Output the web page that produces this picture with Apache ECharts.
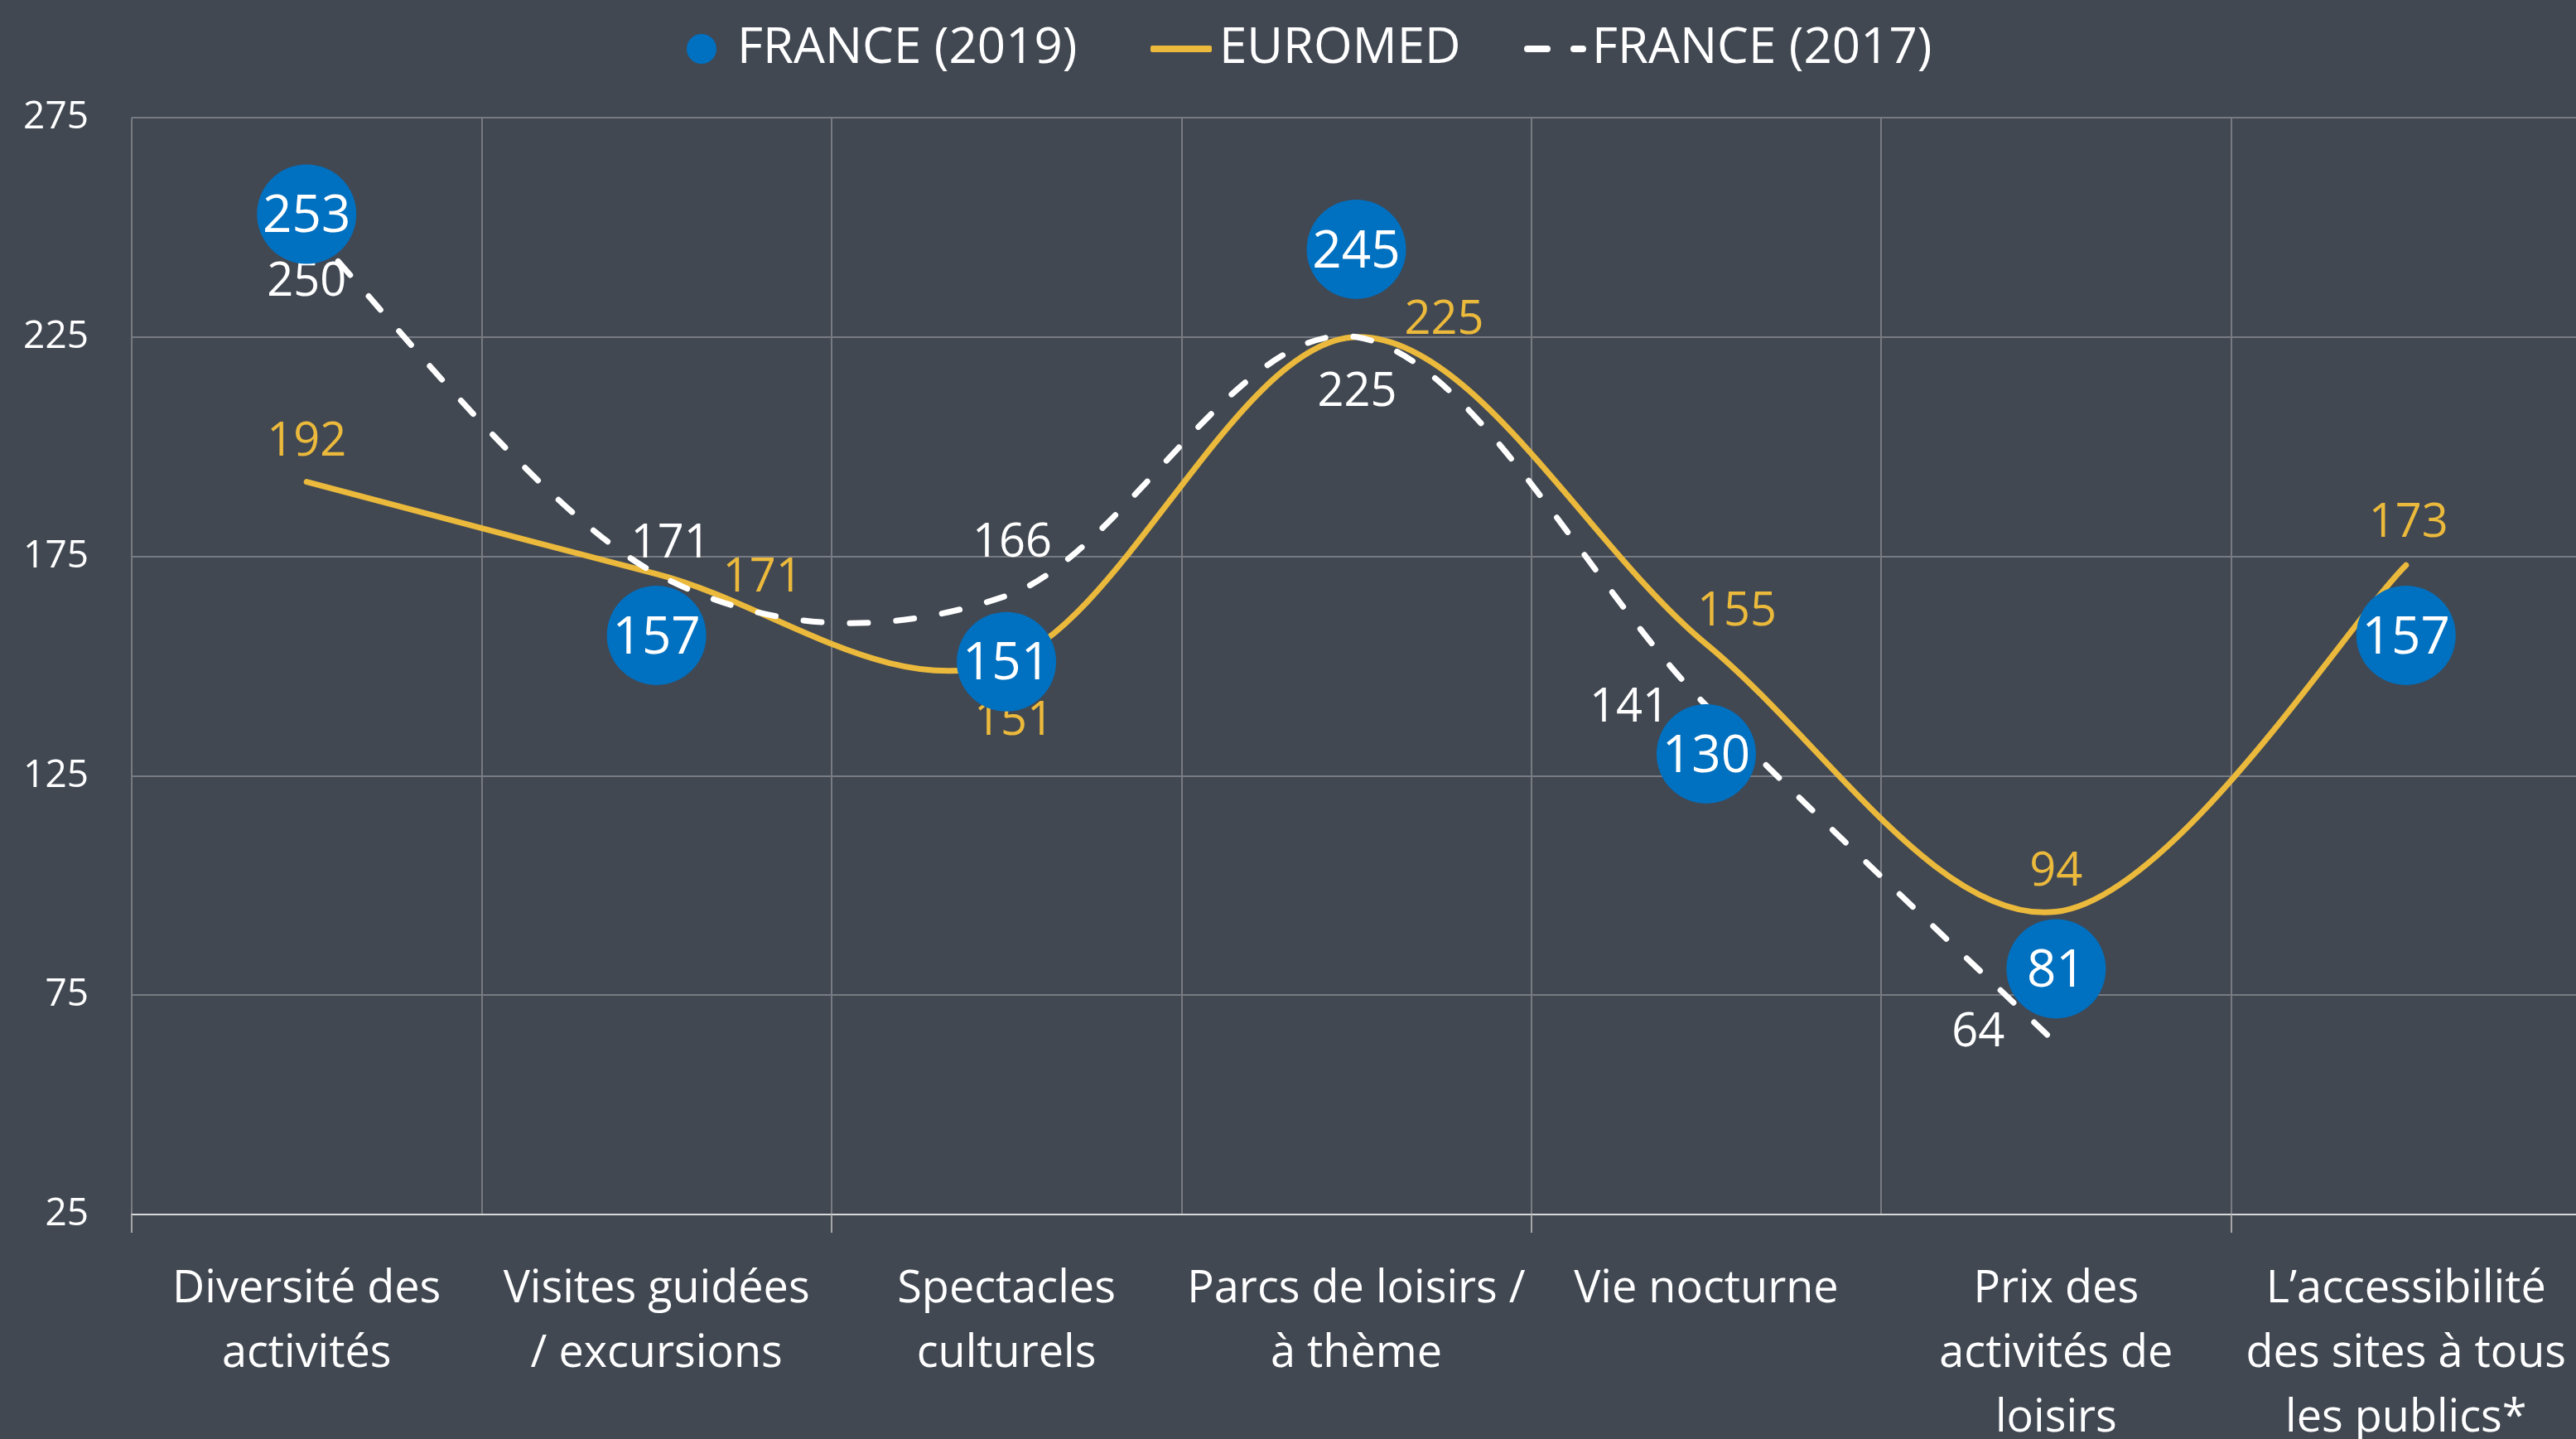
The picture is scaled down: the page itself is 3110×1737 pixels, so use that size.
<!DOCTYPE html>
<html>
<head>
<meta charset="utf-8">
<script src="https://cdn.jsdelivr.net/npm/echarts@6/dist/echarts.min.js"></script>
<style>
  html, body { margin: 0; padding: 0; background: #414852; }
  #chart { width: 3110px; height: 1737px; }
</style>
</head>
<body>
<div id="chart"></div>
<script>
// ---- Data ----
const categories = [
  'Diversité des\nactivités',
  'Visites guidées\n/ excursions',
  'Spectacles\nculturels',
  'Parcs de loisirs /\nà thème',
  'Vie nocturne',
  'Prix des\nactivités de\nloisirs',
  'L’accessibilité\ndes sites à tous\nles publics*'
];
const seriesNames = ['FRANCE (2019)', 'EUROMED', 'FRANCE (2017)'];
const france2019 = [253, 157, 151, 245, 130, 81, 157];
const euromed = [192, 171, 151, 225, 155, 94, 173];
const france2017 = [250, 171, 166, 225, 141, 64, null];
const yMin = 25, yMax = 275, yStep = 50;

// ---- Label placement (styling, px offsets from each point) ----
const euromedLabelOffsets = [[0, -48], [128, 5], [9, 72], [106, -20], [37, -38], [0, -48], [3, -50]];
const france2017LabelOffsets = [[0, 67], [17, -36], [7, -63], [1, 67], [-93, 3], [-94, -12], [0, 0]];

const FONT = '"Open Sans", "Noto Sans", sans-serif';
const YELLOW = '#EBB93B';
const BLUE = '#0070C0';
const WHITE = '#FFFFFF';
const GRID = '#787B81';

function withLabels(values, offsets) {
  return values.map((v, i) => ({ value: v, label: { offset: offsets[i] } }));
}

// Smooth (Catmull-Rom style, like spreadsheet smoothed lines) path through the
// data points, positioned with the chart's own coordinate system.
function smoothCurve(values, stroke, lineDash) {
  return function (params, api) {
    if (params.dataIndex !== 0) return { type: 'group', children: [] };
    const pts = [];
    values.forEach((v, i) => { if (v != null) pts.push(api.coord([i, v])); });
    let d = 'M' + pts[0][0] + ',' + pts[0][1];
    for (let i = 0; i < pts.length - 1; i++) {
      const p0 = pts[i - 1] || pts[i], p1 = pts[i], p2 = pts[i + 1], p3 = pts[i + 2] || pts[i + 1];
      const c1x = p1[0] + (p2[0] - p0[0]) / 6, c1y = p1[1] + (p2[1] - p0[1]) / 6;
      const c2x = p2[0] - (p3[0] - p1[0]) / 6, c2y = p2[1] - (p3[1] - p1[1]) / 6;
      d += ' C' + c1x + ',' + c1y + ' ' + c2x + ',' + c2y + ' ' + p2[0] + ',' + p2[1];
    }
    return {
      type: 'path',
      shape: { pathData: d },
      style: { fill: 'none', stroke: stroke, lineWidth: 7, lineCap: 'round', lineJoin: 'round', lineDash: lineDash || null }
    };
  };
}

function pairData(values) {
  const out = [];
  values.forEach((v, i) => { if (v != null) out.push([i, v]); });
  return out;
}

const chart = echarts.init(document.getElementById('chart'), null, { renderer: 'canvas' });

const legendText = { color: WHITE, fontSize: 60, fontFamily: FONT, lineHeight: 72 };

const option = {
  backgroundColor: '#414852',
  animation: false,
  textStyle: { fontFamily: FONT },
  legend: [
    {
      data: [{ name: seriesNames[0], icon: 'circle', itemStyle: { color: BLUE } }],
      left: 829, top: 23, padding: 0,
      itemWidth: 36, itemHeight: 36,
      selectedMode: false,
      textStyle: Object.assign({ padding: [0, 0, 0, 20] }, legendText)
    },
    {
      data: [{ name: seriesNames[1], icon: 'roundRect', itemStyle: { color: YELLOW, borderWidth: 0 } }],
      left: 1389, top: 23, padding: 0,
      itemWidth: 74, itemHeight: 8,
      selectedMode: false,
      textStyle: Object.assign({ padding: [0, 0, 0, 4] }, legendText)
    },
    {
      data: [{
        name: seriesNames[2],
        icon: 'path://M4,0h24a4,4 0 0 1 0,8h-24a4,4 0 0 1 0,-8z M60,0h11a4,4 0 0 1 0,8h-11a4,4 0 0 1 0,-8z',
        itemStyle: { color: WHITE, borderWidth: 0 }
      }],
      left: 1840, top: 23, padding: 0,
      itemWidth: 75, itemHeight: 8,
      selectedMode: false,
      textStyle: Object.assign({ padding: [0, 0, 0, 2] }, legendText)
    }
  ],
  grid: { left: 159, top: 142, width: 2957, height: 1324, containLabel: false, outerBoundsMode: 'none' },
  xAxis: {
    type: 'category',
    data: categories,
    boundaryGap: true,
    axisLine: { show: true, lineStyle: { color: '#D9D9D9', width: 2 } },
    axisTick: { show: true, interval: 1, length: 22, lineStyle: { color: '#A6A6A6', width: 2 } },
    splitLine: { show: true, interval: 0, lineStyle: { color: GRID, width: 2 } },
    axisLabel: {
      interval: 0, color: WHITE, fontSize: 54, fontFamily: FONT,
      lineHeight: 78, margin: 52
    }
  },
  yAxis: {
    type: 'value',
    min: yMin, max: yMax, interval: yStep,
    axisLine: { show: false },
    axisTick: { show: false },
    splitLine: { show: true, lineStyle: { color: GRID, width: 2 } },
    axisLabel: { color: WHITE, fontSize: 46, fontFamily: FONT, margin: 52, padding: [16, 0, 0, 0] }
  },
  series: [
    {
      name: '_euromedCurve',
      type: 'custom',
      data: pairData(euromed),
      renderItem: smoothCurve(euromed, YELLOW),
      z: 2, silent: true
    },
    {
      name: '_france2017Curve',
      type: 'custom',
      data: pairData(france2017),
      renderItem: smoothCurve(france2017, WHITE, [22, 34]),
      z: 2, silent: true
    },
    {
      name: seriesNames[1],
      type: 'line',
      data: withLabels(euromed, euromedLabelOffsets),
      symbol: 'circle', symbolSize: 1, showSymbol: true,
      itemStyle: { color: 'rgba(0,0,0,0)' },
      lineStyle: { color: YELLOW, width: 0, opacity: 0 },
      label: { show: true, position: 'inside', color: YELLOW, fontSize: 56, fontFamily: FONT },
      z: 3,
      emphasis: { disabled: true }
    },
    {
      name: seriesNames[2],
      type: 'line',
      data: withLabels(france2017, france2017LabelOffsets),
      symbol: 'circle', symbolSize: 1, showSymbol: true,
      itemStyle: { color: 'rgba(0,0,0,0)' },
      lineStyle: { color: WHITE, width: 0, opacity: 0 },
      label: { show: true, position: 'inside', color: WHITE, fontSize: 56, fontFamily: FONT },
      z: 3,
      emphasis: { disabled: true }
    },
    {
      name: seriesNames[0],
      type: 'scatter',
      data: france2019,
      symbol: 'circle',
      symbolSize: 120,
      itemStyle: { color: BLUE, opacity: 1 },
      label: { show: true, position: 'inside', offset: [0, 4], color: WHITE, fontSize: 62, fontFamily: FONT },
      z: 4,
      emphasis: { disabled: true }
    }
  ]
};
chart.setOption(option);
</script>
</body>
</html>
